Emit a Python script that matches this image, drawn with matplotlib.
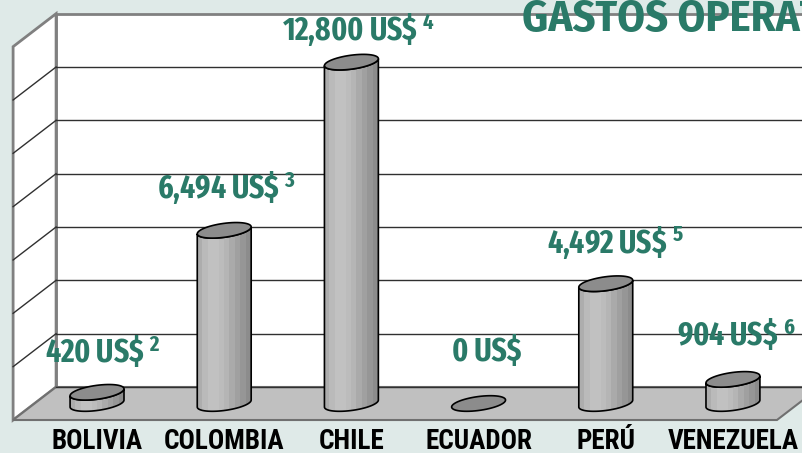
import numpy as np
import matplotlib.pyplot as plt
from matplotlib.patches import Polygon

# datos
paises = ['BOLIVIA', 'COLOMBIA', 'CHILE', 'ECUADOR', 'PERÚ', 'VENEZUELA']
gastos = [420, 6494, 12800, 0, 4492, 904]
notas = ['2', '3', '4', '', '5', '6']
lineas = np.arange(0, 14001, 2000)

verde = '#2a7a68'
fondo = '#dfeae8'
fuente = 'Fira Sans Extra Condensed'
fuente_tit = 'Fira Sans Condensed'
fuente_cat = 'Roboto Condensed'

plt.rcParams['mathtext.fontset'] = 'custom'
plt.rcParams['mathtext.rm'] = 'Fira Sans Extra Condensed:bold'
plt.rcParams['mathtext.default'] = 'rm'

fig = plt.figure(figsize=(8.02, 4.53), dpi=100, facecolor=fondo)
ax = fig.add_axes([0, 0, 1, 1])
ax.axis('off')

DX = 0.169     # media profundidad en x
DY = 619       # media profundidad en y
xl = -0.491    # pared izquierda
xr = 5.515     # borde derecho del piso
xfin = 6.5

# pared del fondo
ax.add_patch(Polygon([(xl + DX, DY), (xl + DX, lineas[-1] + DY), (xfin, lineas[-1] + DY), (xfin, DY)],
                     closed=True, facecolor='white', edgecolor='#808080', lw=2, zorder=1))
# pared lateral
ax.add_patch(Polygon([(xl - DX, -DY), (xl + DX, DY), (xl + DX, lineas[-1] + DY), (xl - DX, lineas[-1] - DY)],
                     closed=True, facecolor='white', edgecolor='#808080', lw=2, zorder=1))
for v in lineas[1:-1]:
    ax.plot([xl + DX, xfin], [v + DY, v + DY], color='#303030', lw=1, zorder=2)
    ax.plot([xl - DX, xl + DX], [v - DY, v + DY], color='#303030', lw=1, zorder=2)
# piso
ax.add_patch(Polygon([(xl - DX, -DY), (xl + DX, DY), (xr + DX, DY), (xr - DX, -DY)],
                     closed=True, facecolor='#c0c0c0', edgecolor='#707070', lw=1.5, zorder=2))
ax.plot([xl + DX, xfin], [DY, DY], color='#303030', lw=1, zorder=2)

# cilindros
r = 0.212
b = 262
tilt = 130
grises = np.array([0.68, 0.73, 0.76, 0.76, 0.74, 0.71, 0.67, 0.63, 0.59, 0.55])
img = np.stack([grises, grises, grises], axis=-1)[None, :, :]

def elipse(cx, cy, t0, t1, n=60):
    t = np.linspace(t0, t1, n)
    return np.column_stack([cx + r * np.cos(t), cy + b * np.sin(t) + tilt * np.cos(t)])

for i, v in enumerate(gastos):
    if v > 0:
        pts = np.vstack([[(i - r, v - tilt)],
                         elipse(i, 0, np.pi, 2 * np.pi),
                         [(i + r, v + tilt)],
                         elipse(i, v, 2 * np.pi, np.pi)])
        cuerpo = Polygon(pts, closed=True, facecolor='none', edgecolor='black', lw=1.2, zorder=4)
        ax.add_patch(cuerpo)
        im = ax.imshow(img, extent=(i - r, i + r, -b - tilt, v + b + tilt), aspect='auto',
                       interpolation='nearest', zorder=3)
        im.set_clip_path(cuerpo)
    tapa = Polygon(elipse(i, v, 0, 2 * np.pi), closed=True, facecolor='#8c8c8c',
                   edgecolor='black', lw=1.2, zorder=5)
    ax.add_patch(tapa)

# etiquetas de valores (desplazamiento en pixeles respecto a la tapa)
desp = [(6, 41), (2, 42), (7, 32), (8, 51), (10, 40), (3, 45)]
for i, v in enumerate(gastos):
    txt = '{:,} US\\$'.format(v)
    if notas[i]:
        txt += '$^{\\;' + notas[i] + '}$'
    ax.annotate(txt, xy=(i, v), xytext=desp[i], textcoords='offset pixels',
                ha='center', va='center', fontsize=23, fontweight='bold',
                family=fuente, color=verde, zorder=6)

# categorias
for i, p in enumerate(paises):
    ax.text(i, -1420, p, ha='center', va='center', fontsize=19.5, fontweight='bold',
            family=fuente_cat, color='black')

fig.text(522 / 802, 1 - 20 / 453, 'GASTOS OPERATIVOS', ha='left', va='center',
         fontsize=32, fontweight='bold', family=fuente_tit, color=verde)

ax.set_xlim(-0.763, 5.543)
ax.set_ylim(-1856, 15131)
fig.savefig('out.png', dpi=100, facecolor=fondo)
